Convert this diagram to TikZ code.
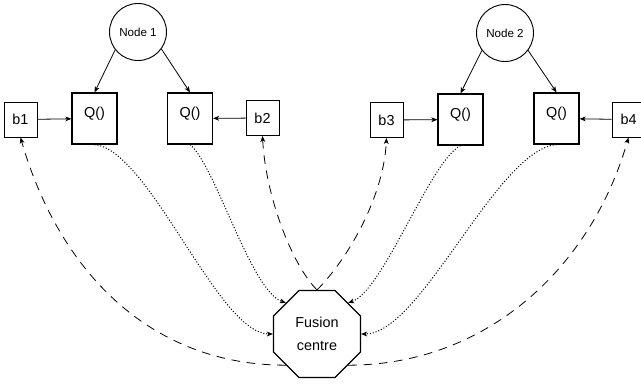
\documentclass[tikz,border=0pt]{standalone}
\usepackage{fontspec}
\setmainfont{Liberation Sans}
\usetikzlibrary{arrows.meta,shapes.geometric}

\begin{document}
\begin{tikzpicture}[x=0.75pt,y=0.75pt,
agent/.style={
	circle,minimum size=42.75pt,inner sep=0pt,
	draw=black,line width=0.7pt,
	font=\fontsize{8.7}{10}\selectfont},
quant/.style={
	rectangle,minimum width=33.75pt,minimum height=38.25pt,inner sep=0pt,
	draw=black,line width=0.9pt,text height=8pt,text depth=9pt,
	font=\fontsize{10.8}{13}\selectfont},
belief/.style={
	rectangle,minimum width=24.75pt,minimum height=26.25pt,inner sep=0pt,
	draw=black,line width=0.7pt,
	font=\fontsize{10.8}{13}\selectfont},
fusion/.style={
	regular polygon,regular polygon sides=8,minimum size=70.6pt,inner sep=0pt,
	draw=black,line width=0.9pt,fill=white,align=center,
	font=\fontsize{10.8}{17}\selectfont},
link/.style={-{Stealth[length=4.5pt,width=3.6pt,inset=1.2pt]},line width=0.6pt},
report/.style={link,line width=0.75pt,dash pattern=on 0.8pt off 1.4pt},
feedback/.style={link,dash pattern=on 6.5pt off 5pt}
]
\useasboundingbox (0,0) rectangle (641,387);
\node[agent] (n1) at (138,355) {Node 1};
\node[agent] (n2) at (505,354) {Node 2};
\node[belief] (b1) at (20.5,267.5) {b1};
\node[quant] (q1) at (94.5,268.5) {Q()};
\node[quant] (q2) at (190,268.5) {Q()};
\node[belief] (b2) at (262.5,269) {b2};
\node[belief] (b3) at (386.5,267) {b3};
\node[quant] (q3) at (460.5,267.5) {Q()};
\node[quant] (q4) at (556.5,268.5) {Q()};
\node[belief] (b4) at (628.5,267.5) {b4};
\node[fusion] (fc) at (317,53) {Fusion\\centre};

\draw[link] (n1.218) -- (q1.north);
\draw[link] (n1.-36) -- (q2.north);
\draw[link] (n2.217) -- (q3.north);
\draw[link] (n2.-37) -- (q4.north);
\draw[link] (b1) -- (q1);
\draw[link] (b2) -- (q2);
\draw[link] (b3) -- (q3);
\draw[link] (b4) -- (q4);

\draw[report] (q1.south) .. controls +(55,-5) and +(-55,0) .. (fc.west);
\draw[report] (q2.south) .. controls +(25,-20) and +(-35,12) .. (fc.135);
\draw[report] (q3.south) .. controls +(-30,-15) and +(35,12) .. (fc.45);
\draw[report] (q4.south) .. controls +(-60,-5) and +(60,0) .. (fc.east);

\draw[feedback] (fc.north) .. controls +(-25,25) and +(3,-60) .. (b2.south);
\draw[feedback] (fc.north) .. controls +(30,30) and +(-3,-60) .. (b3.south);
\draw[feedback] (fc.225) .. controls +(-137,0) and +(38,-132) .. (b1.south);
\draw[feedback] (fc.315) .. controls +(137,0) and +(-38,-132) .. (b4.south);
\end{tikzpicture}
\end{document}
